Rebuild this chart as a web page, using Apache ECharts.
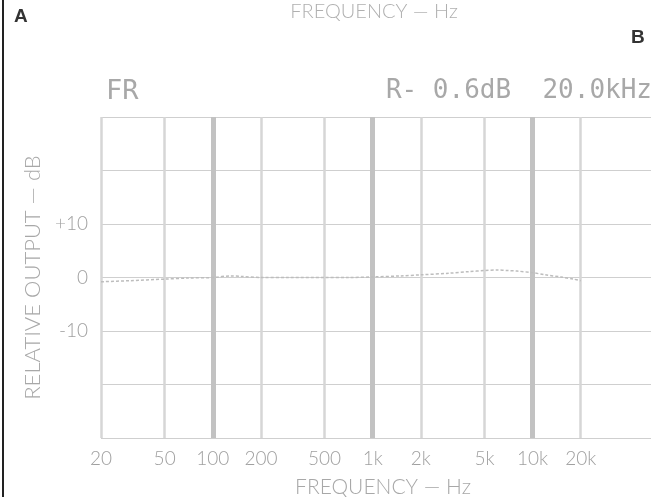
<!DOCTYPE html>
<html>
<head>
<meta charset="utf-8">
<script src="https://cdn.jsdelivr.net/npm/echarts@6/dist/echarts.min.js"></script>
<style>
html,body{margin:0;padding:0;background:#fff;}
#chart{width:658px;height:497px;}
</style>
</head>
<body>
<div id="chart"></div>
<script>
// ---- data ----
const freqTicks = [20, 50, 100, 200, 500, 1000, 2000, 5000, 10000, 20000];
const freqTickText = ['20', '50', '100', '200', '500', '1k', '2k', '5k', '10k', '20k'];
const decadeLines = [100, 1000, 10000];
const minorLines = [20, 50, 200, 500, 2000, 5000, 20000];
const dbLabelValues = [10, 0, -10];
const dbLabelText = ['+10', '0', '-10'];
const curveFreq = [20, 30, 50, 70, 100, 130, 150, 200, 300, 500, 700, 1000, 1500, 2000, 3000, 4000, 5000, 6000, 7000, 8000, 10000, 12000, 15000, 18000, 20000];
const curveDb   = [-0.8, -0.6, -0.3, -0.1, 0.0, 0.3, 0.2, 0.0, 0.0, 0.0, 0.0, 0.1, 0.3, 0.5, 0.8, 1.1, 1.3, 1.4, 1.3, 1.2, 0.9, 0.5, 0.1, -0.3, -0.6];

const chart = echarts.init(document.getElementById('chart'), null, {renderer: 'canvas'});
const labelFont = 'Lato, "Open Sans", sans-serif';
const dotFont = '"DejaVu Sans Mono", "Liberation Mono", monospace';

const tickMap = {};
freqTicks.forEach((f, i) => { tickMap[f] = freqTickText[i]; });
const dbMap = {};
dbLabelValues.forEach((v, i) => { dbMap[v] = dbLabelText[i]; });

chart.setOption({
  animation: false,
  backgroundColor: '#ffffff',
  grid: {left: 101, right: 7, top: 117, bottom: 59, containLabel: false, outerBoundsMode: 'none'},
  xAxis: {
    type: 'log', logBase: 10, min: 20, max: 55000,
    axisLine: {show: false},
    axisTick: {show: false, customValues: freqTicks},
    splitLine: {show: false},
    axisLabel: {
      customValues: freqTicks,
      color: '#a0a0a0', fontSize: 19, fontFamily: labelFont, fontWeight: 300, margin: 11,
      formatter: v => tickMap[Math.round(v)] || ''
    }
  },
  yAxis: {
    type: 'value', min: -30, max: 30, interval: 10,
    name: 'RELATIVE OUTPUT — dB', nameLocation: 'middle', nameGap: 53,
    nameTextStyle: {color: '#a8a8a8', fontSize: 22, fontFamily: labelFont, fontWeight: 300},
    axisLine: {show: false}, axisTick: {show: false},
    splitLine: {show: true, lineStyle: {color: '#cfcfcf', width: 1}},
    axisLabel: {
      color: '#a0a0a0', fontSize: 19, fontFamily: labelFont, fontWeight: 300, margin: 13,
      formatter: v => (dbMap[v] !== undefined ? dbMap[v] : '')
    }
  },
  series: [
    {
      type: 'line', data: [], z: 1, silent: true,
      markLine: {
        silent: true, symbol: 'none', label: {show: false}, animation: false,
        data: minorLines.map(f => ({xAxis: f, lineStyle: {color: '#d6d6d6', width: 2.5, type: 'solid'}}))
          .concat(decadeLines.map(f => ({xAxis: f, lineStyle: {color: '#c2c2c2', width: 5, type: 'solid'}})))
      }
    },
    {
      type: 'line', z: 5, silent: true, showSymbol: false, smooth: 0.3,
      data: curveFreq.map((f, i) => [f, curveDb[i]]),
      lineStyle: {color: '#bdbdbd', width: 1.5, type: [3, 2]}
    }
  ],
  graphic: [
    {type: 'line', shape: {x1: 3, y1: 0, x2: 3, y2: 497}, style: {stroke: '#222', lineWidth: 2}},
    {type: 'text', left: 14, top: 7, style: {text: 'A', fill: '#333', font: 'bold 19px "Liberation Sans", Arial, sans-serif'}},
    {type: 'text', left: 631, top: 28, style: {text: 'B', fill: '#333', font: 'bold 19px "Liberation Sans", Arial, sans-serif'}},
    {type: 'text', x: 374, y: 2, style: {text: 'FREQUENCY — Hz', fill: '#b0b0b0', align: 'center', font: '300 20px ' + labelFont}},
    {type: 'text', x: 383, y: 487, style: {text: 'FREQUENCY — Hz', fill: '#a8a8a8', align: 'center', verticalAlign: 'middle', font: '300 21px ' + labelFont}},
    {type: 'text', left: 106, top: 78, style: {text: 'FR', fill: '#a8a8a8', font: '27px ' + dotFont}},
    {type: 'text', x: 652, y: 78, style: {text: 'R- 0.6dB  20.0kHz', fill: '#a8a8a8', align: 'right', font: '26px ' + dotFont}}
  ]
});
</script>
</body>
</html>
